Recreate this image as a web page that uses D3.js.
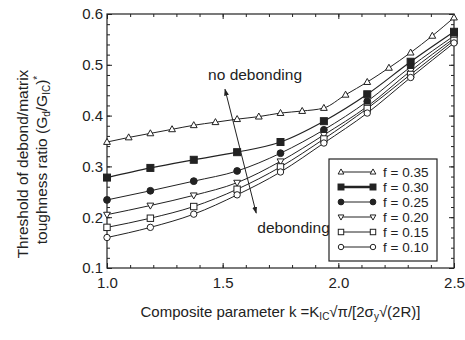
<!DOCTYPE html>
<html>
<head>
<meta charset="utf-8">
<script src="https://cdn.jsdelivr.net/npm/d3@7"></script>
<style>
  body { margin: 0; background: #fff; }
  svg text { font-family: Arial, "Liberation Sans", Helvetica, sans-serif; fill: #222; }
</style>
</head>
<body>
<div id="chart"></div>
<script>
// x positions of the points
var xFine = [1.0, 1.09375, 1.1875, 1.28125, 1.375, 1.46875, 1.5625, 1.65625, 1.75,
             1.84375, 1.9375, 2.03125, 2.125, 2.21875, 2.3125, 2.40625, 2.5];
var xCoarse = [1.0, 1.1875, 1.375, 1.5625, 1.75, 1.9375, 2.125, 2.3125, 2.5];

var f035 = [0.348, 0.357, 0.365, 0.373, 0.381, 0.387, 0.393, 0.398, 0.405,
            0.409, 0.415, 0.441, 0.466, 0.494, 0.524, 0.557, 0.593];
var f030 = [0.278, 0.297, 0.313, 0.328, 0.348, 0.389, 0.442, 0.506, 0.565];
var f025 = [0.234, 0.252, 0.271, 0.291, 0.326, 0.372, 0.428, 0.496, 0.557];
var f020 = [0.205, 0.223, 0.243, 0.268, 0.310, 0.362, 0.418, 0.488, 0.552];
var f015 = [0.180, 0.198, 0.221, 0.255, 0.299, 0.354, 0.414, 0.481, 0.548];
var f010 = [0.160, 0.180, 0.206, 0.244, 0.289, 0.346, 0.405, 0.475, 0.543];

var seriesNames = ["f = 0.35", "f = 0.30", "f = 0.25", "f = 0.20", "f = 0.15", "f = 0.10"];
var xTicks = [1.0, 1.5, 2.0, 2.5];
var yTicks = [0.1, 0.2, 0.3, 0.4, 0.5, 0.6];

var series = [
  { name: seriesNames[0], xs: xFine,   ys: f035, marker: "tri",   fill: false, lw: 1 },
  { name: seriesNames[1], xs: xCoarse, ys: f030, marker: "sq",    fill: true,  lw: 1.2 },
  { name: seriesNames[2], xs: xCoarse, ys: f025, marker: "circ",  fill: true,  lw: 1 },
  { name: seriesNames[3], xs: xCoarse, ys: f020, marker: "dtri",  fill: false, lw: 1 },
  { name: seriesNames[4], xs: xCoarse, ys: f015, marker: "sq",    fill: false, lw: 1 },
  { name: seriesNames[5], xs: xCoarse, ys: f010, marker: "circ",  fill: false, lw: 1 }
];

var W = 465, H = 340;
var margin = { top: 14, right: 11, bottom: 72, left: 107 };
var pw = W - margin.left - margin.right;
var ph = H - margin.top - margin.bottom;
var ink = "#222";

var svg = d3.select("#chart").append("svg")
  .attr("width", W).attr("height", H);

var x = d3.scaleLinear().domain([1.0, 2.5]).range([0, pw]);
var y = d3.scaleLinear().domain([0.1, 0.6]).range([ph, 0]);

var g = svg.append("g")
  .attr("transform", "translate(" + margin.left + "," + margin.top + ")");

// minor + major ticks, inward, on all four sides
var xMinor = d3.range(10, 26).map(function (d) { return d / 10; });
var yMinor = d3.range(5, 31).map(function (d) { return d / 50; });

function tickAxis(axisFn, scale, vals, len, tf) {
  var a = g.append("g").attr("transform", tf)
    .call(axisFn(scale).tickValues(vals).tickSize(-len).tickFormat(""));
  a.select(".domain").remove();
  a.selectAll("line").attr("stroke", ink).attr("stroke-width", 1);
}
tickAxis(d3.axisBottom, x, xMinor, 3, "translate(0," + ph + ")");
tickAxis(d3.axisTop, x, xMinor, 3, "translate(0,0)");
tickAxis(d3.axisLeft, y, yMinor, 3, "translate(0,0)");
tickAxis(d3.axisRight, y, yMinor, 3, "translate(" + pw + ",0)");
tickAxis(d3.axisBottom, x, xTicks, 5, "translate(0," + ph + ")");
tickAxis(d3.axisTop, x, xTicks, 5, "translate(0,0)");
tickAxis(d3.axisLeft, y, yTicks, 5, "translate(0,0)");
tickAxis(d3.axisRight, y, yTicks, 5, "translate(" + pw + ",0)");

// labels
var xl = g.append("g").attr("transform", "translate(0," + ph + ")")
  .call(d3.axisBottom(x).tickValues(xTicks).tickSize(0).tickPadding(9).tickFormat(d3.format(".1f")));
xl.select(".domain").remove();
xl.selectAll("text").attr("font-size", 15).style("fill", ink);

var yl = g.append("g")
  .call(d3.axisLeft(y).tickValues(yTicks).tickSize(0).tickPadding(4).tickFormat(d3.format(".1f")));
yl.select(".domain").remove();
yl.selectAll("text").attr("font-size", 15).style("fill", ink);

// frame
g.append("rect").attr("width", pw).attr("height", ph)
  .attr("fill", "none").attr("stroke", ink).attr("stroke-width", 1.2);

// curves
var line = d3.line()
  .x(function (d) { return x(d[0]); })
  .y(function (d) { return y(d[1]); })
  .curve(d3.curveMonotoneX);

function drawMarker(sel, m, fill, cx, cy, k) {
  k = k || 1;
  var st = fill ? ink : "#fff";
  if (m === "tri") {
    sel.append("path").attr("d", "M" + cx + "," + (cy - 3.6 * k) + "L" + (cx + 3.4 * k) + "," + (cy + 2.4 * k) + "L" + (cx - 3.4 * k) + "," + (cy + 2.4 * k) + "Z")
      .attr("fill", st).attr("stroke", ink).attr("stroke-width", 1);
  } else if (m === "dtri") {
    sel.append("path").attr("d", "M" + cx + "," + (cy + 3.6 * k) + "L" + (cx + 3.4 * k) + "," + (cy - 2.4 * k) + "L" + (cx - 3.4 * k) + "," + (cy - 2.4 * k) + "Z")
      .attr("fill", st).attr("stroke", ink).attr("stroke-width", 1);
  } else if (m === "sq") {
    var s = (fill ? 7 : 6.4) * k;
    sel.append("rect").attr("x", cx - s / 2).attr("y", cy - s / 2).attr("width", s).attr("height", s)
      .attr("fill", st).attr("stroke", ink).attr("stroke-width", 1);
  } else {
    sel.append("circle").attr("cx", cx).attr("cy", cy).attr("r", (fill ? 3.4 : 3.2) * k)
      .attr("fill", st).attr("stroke", ink).attr("stroke-width", 1);
  }
}

series.forEach(function (s) {
  var pts = s.xs.map(function (v, i) { return [v, s.ys[i]]; });
  g.append("path").datum(pts).attr("d", line)
    .attr("fill", "none").attr("stroke", ink).attr("stroke-width", s.lw);
});
series.forEach(function (s) {
  var mg = g.append("g");
  s.xs.forEach(function (v, i) {
    drawMarker(mg, s.marker, s.fill, x(v), y(s.ys[i]));
  });
});

// double arrow and annotations
var arrowTop = [1.51, 0.452], arrowBot = [1.645, 0.208];
var defs = svg.append("defs");
defs.append("marker").attr("id", "ah").attr("viewBox", "0 0 10 10")
  .attr("refX", 9).attr("refY", 5).attr("markerWidth", 7).attr("markerHeight", 7)
  .attr("orient", "auto-start-reverse")
  .append("path").attr("d", "M0,1.5L10,5L0,8.5Z").attr("fill", ink);
g.append("line")
  .attr("x1", x(arrowTop[0])).attr("y1", y(arrowTop[1]))
  .attr("x2", x(arrowBot[0])).attr("y2", y(arrowBot[1]))
  .attr("stroke", ink).attr("stroke-width", 1)
  .attr("marker-start", "url(#ah)").attr("marker-end", "url(#ah)");

g.append("text").attr("x", x(1.437)).attr("y", y(0.47))
  .attr("font-size", 15.5).text("no debonding");
g.append("text").attr("x", x(1.65)).attr("y", y(0.169))
  .attr("font-size", 15.5).text("debonding");

// legend
var lg = svg.append("g").attr("transform", "translate(329,159)");
lg.append("rect").attr("width", 108).attr("height", 102)
  .attr("fill", "#fff").attr("stroke", ink).attr("stroke-width", 1.2);
series.forEach(function (s, i) {
  var ly = 13 + i * 15;
  lg.append("line").attr("x1", 12).attr("x2", 44).attr("y1", ly).attr("y2", ly)
    .attr("stroke", ink).attr("stroke-width", i === 1 ? 2.5 : 1);
  drawMarker(lg, s.marker, s.fill, 12, ly, 0.85);
  drawMarker(lg, s.marker, s.fill, 44, ly, 0.85);
  lg.append("text").attr("x", 54).attr("y", ly + 5).attr("font-size", 13.5).text(s.name);
});

// axis titles
var xt = svg.append("text").attr("x", margin.left + pw / 2).attr("y", 317)
  .attr("text-anchor", "middle").attr("font-size", 15);
xt.append("tspan").text("Composite parameter k =K");
xt.append("tspan").attr("font-size", 10).attr("dy", 3).text("IC");
xt.append("tspan").attr("dy", -3).text("\u221A\u03C0/[2\u03C3");
xt.append("tspan").attr("font-size", 10).attr("dy", 3).text("y");
xt.append("tspan").attr("dy", -3).text("\u221A(2R)]");

svg.append("text").attr("transform", "translate(28,164) rotate(-90)")
  .attr("text-anchor", "middle").attr("font-size", 15.5).text("Threshold of debond/matrix");
var yt = svg.append("text").attr("transform", "translate(47,160) rotate(-90)")
  .attr("text-anchor", "middle").attr("font-size", 15.5);
yt.append("tspan").text("toughness ratio (G");
yt.append("tspan").attr("font-size", 10).attr("dy", 3).text("d");
yt.append("tspan").attr("dy", -3).text("/G");
yt.append("tspan").attr("font-size", 10).attr("dy", 3).text("IC");
yt.append("tspan").attr("dy", -3).text(")");
yt.append("tspan").attr("font-size", 10).attr("dy", -6).text("*");
</script>
</body>
</html>
